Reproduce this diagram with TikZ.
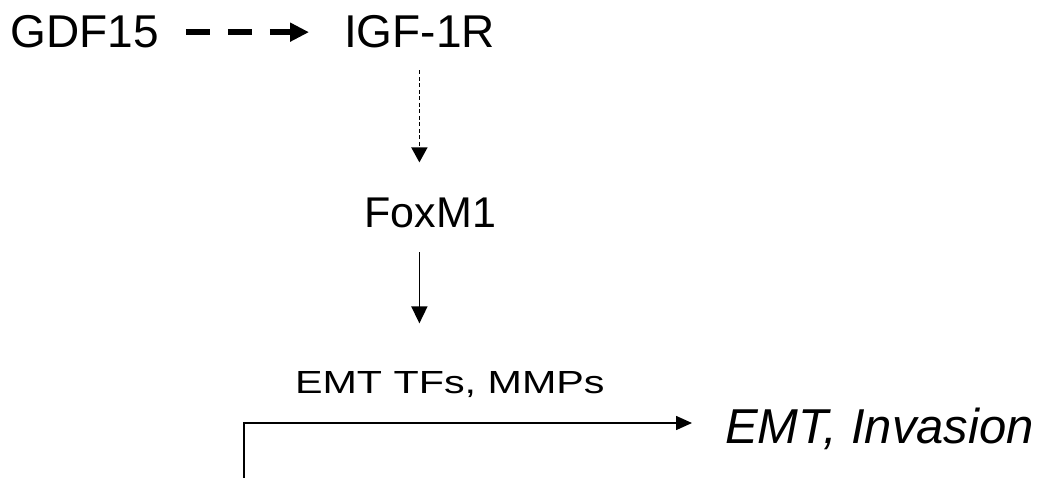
\documentclass[tikz,border=0pt]{standalone}
\usepackage{fontspec}
\setmainfont{Liberation Sans}
\usetikzlibrary{arrows.meta}
\begin{document}
\begin{tikzpicture}[x=1pt,y=-1pt,
  lbl/.style={inner sep=0pt, outer sep=0pt, anchor=base west},
  big/.style={font=\fontsize{46}{50}\selectfont},
  thin line/.style={line width=1.6pt},
]
\useasboundingbox (0,0) rectangle (1054,478);
\node[lbl,big] (gdf) at (10.5,48) {GDF15};
\node[lbl,big] (igf) at (344,48) {IGF-1R};
\node[lbl,font=\fontsize{43}{48}\selectfont] (fox) at (364.5,228) {FoxM1};
\node[lbl,font=\fontsize{32}{36}\selectfont] (tfs) at (295,393) {\scalebox{1.29}[1]{EMT TFs, MMPs}};
\node[lbl,font=\fontsize{49}{54}\selectfont\itshape] (emt) at (725,443) {EMT, Invasion};
\coordinate (src) at (244,478);
\coordinate (bend) at (244,423);
% dashed thick arrow
\draw[line width=6pt, dash pattern=on 24pt off 18pt,
  -{Triangle[length=19pt,width=18pt]},
  shorten <=27pt, shorten >=35pt] (gdf.east) -- (igf.west);
% dotted vertical arrow
\draw[thin line, dash pattern=on 4pt off 2.5pt,
  -{Triangle[length=15pt,width=16pt]},
  shorten <=22pt, shorten >=36pt] (igf.south) -- (igf.south |- fox.north);
% solid vertical arrow
\draw[thin line, -{Triangle[length=17pt,width=16pt]},
  shorten <=24pt, shorten >=47.6pt] (igf.south |- fox.south) -- (igf.south |- tfs.north);
% bent arrow
\draw[thin line, -{Triangle[length=16pt,width=14pt]}, shorten >=33pt]
  (src) -- (bend) -- (bend -| emt.west);
\end{tikzpicture}
\end{document}
